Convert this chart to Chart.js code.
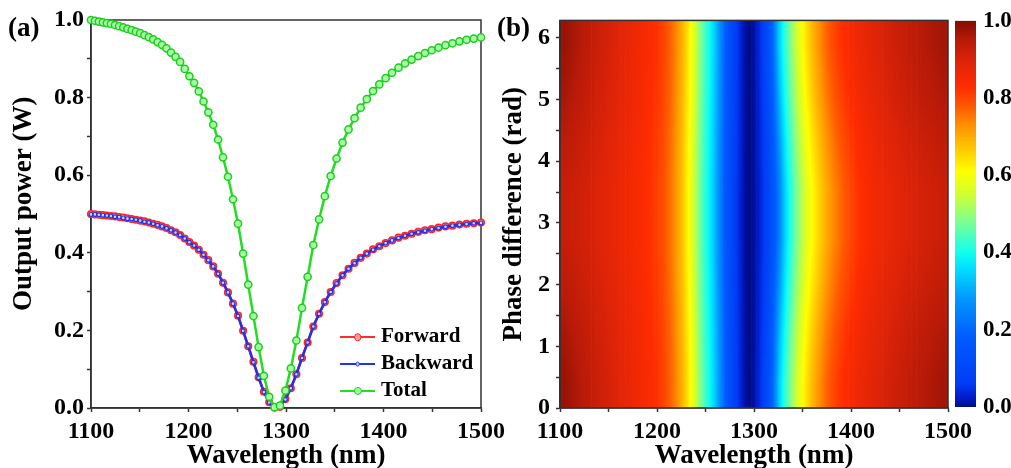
<!DOCTYPE html>
<html><head><meta charset="utf-8">
<script src="https://cdn.jsdelivr.net/npm/chart.js@4.4.1/dist/chart.umd.min.js"></script>
<style>
html,body{margin:0;padding:0;background:#fff;width:1011px;height:468px;overflow:hidden;position:relative;}
canvas{position:absolute;top:0;}
#cA{left:0}
#cB{left:500px}
#cC{left:940px}
.panel{position:absolute;font:bold 27px "Liberation Serif";line-height:1;color:#000;}
#legend{position:absolute;left:340px;top:0;font:bold 21px "Liberation Serif";color:#000;}
.lg{position:absolute;left:0;height:26px;line-height:26px;display:flex;align-items:center;white-space:nowrap;}
.lg .ln{position:relative;width:35px;height:2.5px;margin-right:6px;}
.lg .mk{position:absolute;left:50%;top:50%;border-radius:50%;transform:translate(-50%,-50%);box-sizing:border-box;}
.lg span{position:relative;top:-2px;}
</style></head><body>
<canvas id="cA" width="530" height="468"></canvas>
<canvas id="cB" width="480" height="468"></canvas>
<canvas id="cC" width="71" height="468"></canvas>
<div class="panel" style="left:8px;top:14px">(a)</div>
<div class="panel" style="left:497px;top:14px">(b)</div>
<div id="legend"></div>
<script>
// ---------------- data: panel (a) ----------------
const wavelengths = [1100.00,1104.03,1108.09,1112.19,1116.31,1120.46,1124.65,1128.86,1133.11,1137.39,
1141.70,1146.05,1150.43,1154.84,1159.29,1163.77,1168.28,1172.83,1177.42,1182.04,
1186.70,1191.39,1196.13,1200.90,1205.71,1210.55,1215.44,1220.37,1225.33,1230.34,
1235.39,1240.48,1245.61,1250.78,1256.00,1261.26,1266.56,1271.91,1277.31,1282.75,
1288.24,1293.77,1299.35,1304.98,1310.66,1316.39,1322.17,1328.00,1333.89,1339.83,
1345.82,1351.87,1357.96,1364.12,1370.32,1376.59,1382.91,1389.28,1395.72,1402.21,
1408.77,1415.39,1422.08,1428.83,1435.64,1442.52,1449.46,1456.47,1463.55,1470.70,
1477.92,1485.20,1492.56,1500.00];
const forwardPower = [0.500,0.499,0.498,0.497,0.496,0.495,0.494,0.492,0.491,0.489,
0.487,0.485,0.483,0.481,0.478,0.475,0.472,0.468,0.464,0.458,
0.453,0.446,0.437,0.428,0.419,0.408,0.395,0.381,0.365,0.346,
0.323,0.298,0.269,0.238,0.199,0.159,0.119,0.079,0.042,0.015,
0.001,0.003,0.023,0.051,0.087,0.129,0.169,0.210,0.243,0.273,
0.299,0.322,0.342,0.359,0.374,0.387,0.398,0.409,0.417,0.425,
0.432,0.439,0.444,0.449,0.454,0.458,0.461,0.465,0.468,0.470,
0.473,0.475,0.476,0.478];
const backwardPower = [0.499,0.499,0.498,0.497,0.496,0.495,0.493,0.492,0.490,0.488,
0.487,0.485,0.483,0.480,0.478,0.475,0.471,0.468,0.463,0.458,
0.452,0.446,0.437,0.427,0.419,0.408,0.395,0.381,0.365,0.346,
0.323,0.298,0.269,0.237,0.199,0.159,0.118,0.078,0.041,0.014,
0.001,0.003,0.022,0.051,0.087,0.129,0.169,0.210,0.243,0.273,
0.299,0.321,0.342,0.359,0.373,0.387,0.398,0.408,0.417,0.425,
0.432,0.438,0.444,0.449,0.453,0.457,0.461,0.464,0.467,0.470,
0.472,0.474,0.476,0.477];
const totalPower = [1.000,0.998,0.996,0.994,0.992,0.990,0.987,0.984,0.981,0.977,
0.974,0.970,0.966,0.961,0.956,0.950,0.943,0.936,0.927,0.916,
0.905,0.892,0.874,0.855,0.838,0.816,0.790,0.762,0.730,0.692,
0.646,0.596,0.538,0.475,0.398,0.318,0.237,0.157,0.083,0.029,
0.002,0.006,0.045,0.102,0.174,0.258,0.338,0.420,0.486,0.546,
0.598,0.643,0.684,0.718,0.747,0.774,0.796,0.817,0.834,0.850,
0.864,0.877,0.888,0.898,0.907,0.915,0.922,0.929,0.935,0.940,
0.945,0.949,0.952,0.955];
const seriesNames = ['Forward','Backward','Total'];
const wavelengthTickLabels = [1100,1200,1300,1400,1500];
const powerTickLabels = ['0.0','0.2','0.4','0.6','0.8','1.0'];

// ---------------- data: panel (b) ----------------
const mapWavelengths = [1100,1105,1110,1115,1120,1125,1130,1135,1140,1145,
1150,1155,1160,1165,1170,1175,1180,1185,1190,1195,
1200,1205,1210,1215,1220,1225,1230,1235,1240,1245,
1250,1255,1260,1265,1270,1275,1280,1285,1290,1295,
1300,1305,1310,1315,1320,1325,1330,1335,1340,1345,
1350,1355,1360,1365,1370,1375,1380,1385,1390,1395,
1400,1405,1410,1415,1420,1425,1430,1435,1440,1445,
1450,1455,1460,1465,1470,1475,1480,1485,1490,1495,1500];
const phaseEdges = [0,0.785,1.571,2.356,3.142,3.927,4.712,5.498,6.283];
const rowEdge = [.985,.978,.970,.962,.954,.946,.938,.930,.922,.914,
.906,.898,.890,.882,.874,.866,.858,.850,.842,.834,
.825,.810,.790,.766,.737,.702,.658,.605,.545,.482,
.432,.390,.335,.262,.185,.125,.078,.040,.013,.000,
.010,.035,.075,.132,.212,.325,.400,.458,.510,.560,
.608,.650,.686,.717,.745,.770,.791,.809,.824,.837,
.848,.858,.867,.875,.883,.890,.897,.904,.911,.918,
.924,.930,.936,.942,.947,.952,.957,.961,.965,.969,.972];
const rowNear = [.971,.965,.957,.950,.943,.936,.929,.922,.914,.907,
.899,.892,.884,.877,.870,.862,.854,.846,.838,.830,
.821,.806,.786,.762,.732,.697,.652,.599,.539,.477,
.427,.385,.329,.257,.181,.122,.076,.039,.012,.000,
.009,.032,.069,.122,.195,.297,.376,.438,.490,.540,
.588,.629,.665,.697,.725,.751,.773,.792,.808,.823,
.835,.846,.856,.865,.873,.880,.887,.894,.901,.908,
.913,.919,.925,.930,.935,.940,.945,.949,.953,.957,.960];
const rowMid = [.951,.945,.939,.933,.927,.922,.916,.910,.903,.896,
.890,.883,.876,.870,.863,.856,.848,.841,.833,.824,
.815,.800,.780,.755,.725,.689,.644,.589,.529,.469,
.420,.378,.321,.249,.175,.118,.073,.037,.012,.000,
.009,.029,.061,.108,.171,.257,.342,.408,.462,.512,
.558,.600,.636,.668,.697,.724,.747,.768,.786,.802,
.816,.829,.840,.850,.859,.866,.873,.880,.887,.893,
.898,.903,.909,.913,.918,.923,.927,.931,.935,.939,.942];
const rowCenter = [.935,.930,.925,.920,.915,.910,.905,.900,.894,.888,
.882,.876,.870,.864,.858,.851,.844,.837,.829,.820,
.810,.795,.775,.750,.720,.683,.637,.582,.522,.463,
.415,.372,.315,.243,.170,.114,.070,.035,.011,.000,
.008,.026,.055,.097,.152,.225,.315,.385,.440,.490,
.535,.576,.612,.645,.675,.702,.726,.748,.768,.786,
.801,.815,.827,.838,.847,.855,.862,.869,.875,.881,
.886,.891,.896,.900,.905,.909,.913,.917,.921,.925,.928];
const heatRows = [rowEdge,rowNear,rowMid,rowCenter,rowCenter,rowMid,rowNear,rowEdge];
const phaseTickLabels = [0,1,2,3,4,5,6];
const colorbarRange = [0,1];
const colorbarTickLabels = ['0.0','0.2','0.4','0.6','0.8','1.0'];

// ---------------- styles ----------------
const FONT = 'Liberation Serif';
const CMAP = [[0.00,[0,10,128]],[0.02,[0,24,196]],[0.06,[0,60,246]],[0.18,[0,92,255]],
[0.28,[0,152,255]],[0.36,[0,224,255]],[0.40,[16,255,240]],[0.47,[112,255,160]],
[0.55,[208,255,48]],[0.61,[255,255,0]],[0.67,[255,200,0]],[0.73,[255,144,0]],
[0.78,[255,88,0]],[0.83,[255,44,0]],[0.89,[224,36,8]],[0.95,[184,26,8]],[1.00,[128,12,4]]];
function cmapRGB(v){
  v = Math.max(0, Math.min(1, v));
  for (let i = 1; i < CMAP.length; i++) {
    if (v <= CMAP[i][0]) {
      const [a, ca] = CMAP[i-1], [b, cb] = CMAP[i];
      const t = (v - a) / (b - a);
      return [ca[0] + (cb[0]-ca[0])*t, ca[1] + (cb[1]-ca[1])*t, ca[2] + (cb[2]-ca[2])*t];
    }
  }
  return CMAP[CMAP.length-1][1];
}
function cmap(v){ const c = cmapRGB(v); return `rgb(${Math.round(c[0])},${Math.round(c[1])},${Math.round(c[2])})`; }
const AX = '#333';
const tickFont = {family: FONT, size: 24, weight: 'bold'};
const titleFont = {family: FONT, size: 27, weight: 'bold', lineHeight: 1};

const framePlugin = (hook) => ({
  id: 'frame' + hook,
  [hook](chart) {
    const {ctx, chartArea: a} = chart;
    ctx.save();
    ctx.strokeStyle = AX; ctx.lineWidth = 1.5;
    ctx.strokeRect(a.left, a.top, a.right - a.left, a.bottom - a.top);
    ctx.restore();
  }
});

function axisX() {
  return {
    type: 'linear', min: 1100, max: 1500, offset: false,
    ticks: {stepSize: 50, autoSkip: false, maxRotation: 0, padding: 5, color: '#000', font: tickFont,
      callback: v => wavelengthTickLabels.includes(v) ? String(v) : ''},
    grid: {offset: false, drawOnChartArea: false, drawTicks: true, tickLength: 4, tickColor: AX, tickWidth: 1.5},
    border: {color: AX, width: 1.5},
    title: {display: true, text: 'Wavelength (nm)', color: '#000', font: titleFont, padding: {top: 0, bottom: -2}},
    afterFit: s => { s.height = 60; }
  };
}

// ---------------- panel (a) ----------------
const pts = arr => wavelengths.map((w, i) => ({x: w, y: arr[i]}));
const chartA = new Chart(document.getElementById('cA'), {
  type: 'line',
  data: {datasets: [
    {label: seriesNames[0], data: pts(forwardPower), order: 2, clip: false,
     borderColor: '#FF2A2A', borderWidth: 2.5, pointRadius: 3.3, pointBorderWidth: 1.5,
     pointBackgroundColor: '#FFA0A0', pointBorderColor: '#FF2222'},
    {label: seriesNames[1], data: pts(backwardPower), order: 1, clip: false,
     borderColor: '#2233E6', borderWidth: 2.5, pointRadius: 1.9, pointBorderWidth: 1.2,
     pointBackgroundColor: '#D0D4FF', pointBorderColor: '#2233E6'},
    {label: seriesNames[2], data: pts(totalPower), order: 0, clip: false,
     borderColor: '#22DD22', borderWidth: 2.5, pointRadius: 3.6, pointBorderWidth: 1.5,
     pointBackgroundColor: '#A8FFA8', pointBorderColor: '#1ECC1E'}
  ]},
  options: {
    responsive: false, animation: false, events: [],
    layout: {padding: {top: 20, right: 49, left: 0, bottom: 0}},
    plugins: {legend: {display: false}, tooltip: {enabled: false}},
    elements: {line: {tension: 0}},
    scales: {
      x: axisX(),
      y: {type: 'linear', min: 0, max: 1,
        ticks: {stepSize: 0.1, autoSkip: false, padding: 3, color: '#000', font: tickFont,
          callback: v => { const s = Number(v).toFixed(1); return powerTickLabels.includes(s) ? s : ''; }},
        grid: {drawOnChartArea: false, drawTicks: true, tickLength: 4, tickColor: AX, tickWidth: 1.5},
        border: {color: AX, width: 1.5},
        title: {display: true, text: '   Output power (W)', color: '#000', font: titleFont, padding: {top: 10.5, bottom: 0}},
        afterFit: s => { s.width = 91; }
      }
    }
  },
  plugins: [framePlugin('beforeDatasetsDraw')]
});

// HTML legend built from the chart's datasets
(function(){
  const lg = document.getElementById('legend');
  const centers = [337, 364, 391];
  chartA.data.datasets.forEach((ds, i) => {
    const row = document.createElement('div');
    row.className = 'lg';
    row.style.top = (centers[i] - 13) + 'px';
    const ln = document.createElement('div');
    ln.className = 'ln'; ln.style.background = ds.borderColor;
    const mk = document.createElement('div');
    mk.className = 'mk';
    const d = ds.pointRadius * 2 + 1;
    mk.style.width = d + 'px'; mk.style.height = d + 'px';
    mk.style.background = ds.pointBackgroundColor;
    mk.style.border = ds.pointBorderWidth + 'px solid ' + ds.pointBorderColor;
    ln.appendChild(mk);
    const sp = document.createElement('span');
    sp.textContent = ds.label;
    row.appendChild(ln); row.appendChild(sp);
    lg.appendChild(row);
  });
})();

// ---------------- panel (b) heatmap ----------------
// smooth shading inside each cell: bilinear blend between neighbouring cell values
function fieldValue(w, p) {
  const nC = mapWavelengths.length, nR = heatRows.length;
  const step = mapWavelengths[1] - mapWavelengths[0];
  let fi = Math.max(0, Math.min(nC - 1, (w - mapWavelengths[0]) / step));
  const i0 = Math.floor(fi), i1 = Math.min(i0 + 1, nC - 1), ti = fi - i0;
  const rowH = phaseEdges[1] - phaseEdges[0];
  let fj = Math.max(0, Math.min(nR - 1, (p - phaseEdges[0]) / rowH - 0.5));
  const j0 = Math.floor(fj), j1 = Math.min(j0 + 1, nR - 1), tj = fj - j0;
  const a = heatRows[j0][i0] * (1 - ti) + heatRows[j0][i1] * ti;
  const b = heatRows[j1][i0] * (1 - ti) + heatRows[j1][i1] * ti;
  return a * (1 - tj) + b * tj;
}
function cellFill(c) {
  if (c.type !== 'data') return 'rgba(0,0,0,0)';
  const r = c.datasetIndex, i = c.dataIndex;
  const base = cmap(heatRows[r][i]);
  const ch = c.chart, xs = ch.scales && ch.scales.x, ys = ch.scales && ch.scales.y;
  if (!xs || !ys || !ch.chartArea) return base;
  const half = (mapWavelengths[1] - mapWavelengths[0]) / 2;
  const xa = xs.getPixelForValue(mapWavelengths[i] - half), xb = xs.getPixelForValue(mapWavelengths[i] + half);
  const ya = ys.getPixelForValue(phaseEdges[r + 1]), yb = ys.getPixelForValue(phaseEdges[r]);
  if (![xa, xb, ya, yb].every(Number.isFinite) || xb - xa < 1 || yb - ya < 1) return base;
  const ox = Math.floor(xa) - 1, oy = Math.floor(ya) - 1;
  const W = Math.ceil(xb) - ox + 2, H = Math.ceil(yb) - oy + 2;
  const off = document.createElement('canvas');
  off.width = W; off.height = H;
  const octx = off.getContext('2d');
  const img = octx.createImageData(W, H);
  for (let py = 0; py < H; py++) {
    const p = ys.getValueForPixel(oy + py + 0.5);
    for (let px = 0; px < W; px++) {
      const w = xs.getValueForPixel(ox + px + 0.5);
      const rgb = cmapRGB(fieldValue(w, p));
      const k = (py * W + px) * 4;
      img.data[k] = rgb[0]; img.data[k+1] = rgb[1]; img.data[k+2] = rgb[2]; img.data[k+3] = 255;
    }
  }
  octx.putImageData(img, 0, 0);
  const pat = ch.ctx.createPattern(off, 'no-repeat');
  pat.setTransform(new DOMMatrix([1, 0, 0, 1, ox, oy]));
  return pat;
}
const heatDatasets = heatRows.map((row, r) => ({
  label: 'phase ' + r,
  stack: 'heat',
  data: mapWavelengths.map(w => ({x: w, y: [phaseEdges[r], phaseEdges[r+1]]})),
  backgroundColor: cellFill,
  borderWidth: 0,
  barPercentage: 1,
  categoryPercentage: 1,
  clip: 0
}));
new Chart(document.getElementById('cB'), {
  type: 'bar',
  data: {datasets: heatDatasets},
  options: {
    responsive: false, animation: false, events: [],
    layout: {padding: {top: 20, right: 32, left: 0, bottom: 0}},
    plugins: {legend: {display: false}, tooltip: {enabled: false}},
    scales: {
      x: axisX(),
      y: {type: 'linear', min: 0, max: phaseEdges[phaseEdges.length-1], stacked: false, beginAtZero: true,
        ticks: {stepSize: 0.5, includeBounds: false, autoSkip: false, padding: 6, color: '#000', font: tickFont,
          callback: v => phaseTickLabels.includes(v) ? String(v) : ''},
        grid: {drawOnChartArea: false, drawTicks: true, tickLength: 4, tickColor: AX, tickWidth: 1.5},
        border: {color: AX, width: 1.5},
        title: {display: true, text: 'Phase difference (rad)', color: '#000', font: titleFont, padding: {top: 1, bottom: 0}},
        afterFit: s => { s.width = 60; }
      }
    }
  },
  plugins: [framePlugin('afterDatasetsDraw')]
});

// ---------------- colour bar ----------------
function barFill(c) {
  const fallback = cmap(0.5);
  const ys = c.chart.scales && c.chart.scales.y;
  if (!ys) return fallback;
  const y0 = ys.getPixelForValue(colorbarRange[0]), y1 = ys.getPixelForValue(colorbarRange[1]);
  if (!Number.isFinite(y0) || !Number.isFinite(y1) || Math.abs(y0 - y1) < 1) return fallback;
  const g = c.chart.ctx.createLinearGradient(0, y0, 0, y1);
  CMAP.forEach(([v]) => g.addColorStop(v, cmap(v)));
  return g;
}
new Chart(document.getElementById('cC'), {
  type: 'bar',
  data: {labels: ['scale'], datasets: [{data: [colorbarRange], backgroundColor: barFill, borderWidth: 0,
    barPercentage: 1, categoryPercentage: 1}]},
  options: {
    responsive: false, animation: false, events: [],
    layout: {padding: {top: 20, right: 0, left: 15, bottom: 61}},
    plugins: {legend: {display: false}, tooltip: {enabled: false}},
    scales: {
      x: {display: false},
      y: {position: 'right', min: 0, max: 1,
        ticks: {stepSize: 0.2, autoSkip: false, padding: 7, color: '#000', font: {family: FONT, size: 23, weight: 'bold'},
          callback: v => { const s = Number(v).toFixed(1); return colorbarTickLabels.includes(s) ? s : ''; }},
        grid: {display: false, drawTicks: false},
        border: {display: false},
        afterFit: s => { s.width = 35; }
      }
    }
  }
});
</script>
</body></html>
